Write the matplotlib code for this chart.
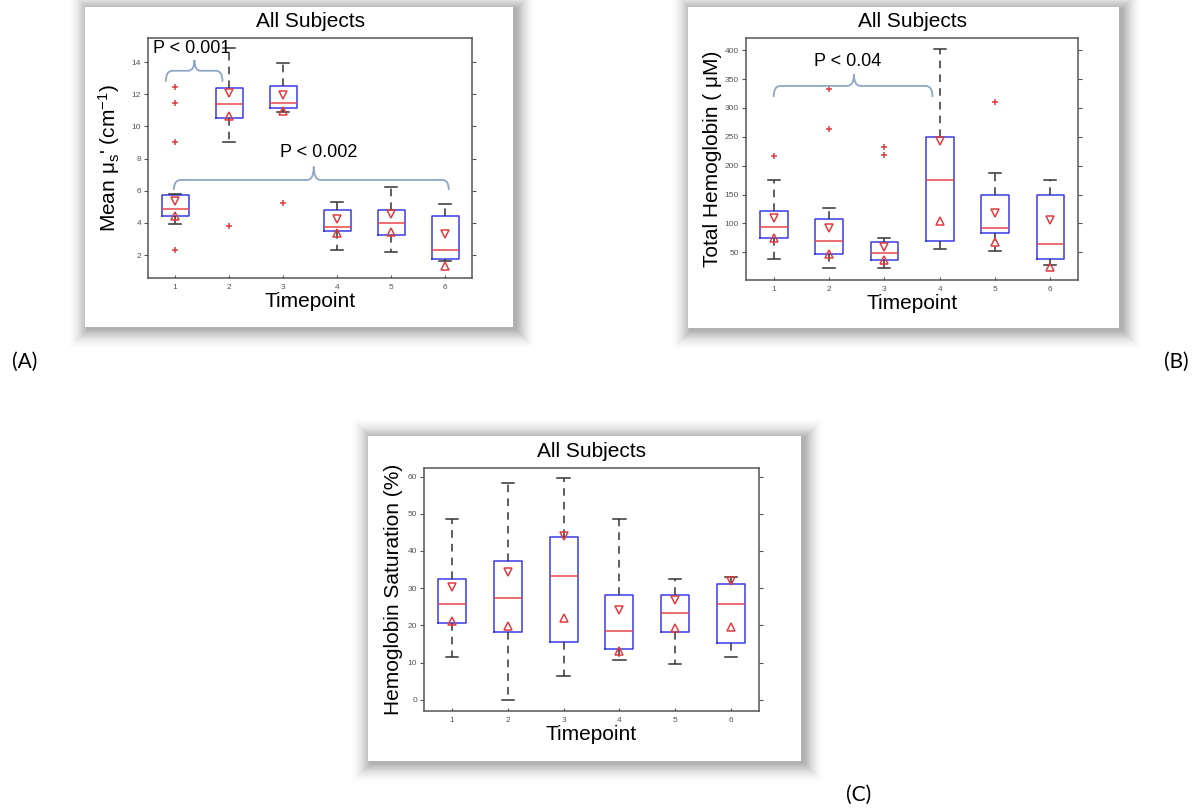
import numpy as np
import matplotlib
matplotlib.use('Agg')
import matplotlib.pyplot as plt
from matplotlib.patches import Rectangle, PathPatch
from matplotlib.path import Path

plt.rcParams['font.family'] = ['Liberation Sans', 'DejaVu Sans']
plt.rcParams['mathtext.default'] = 'regular'

timepoints = [1, 2, 3, 4, 5, 6]

# (A) mean reduced scattering
mus_lo = [3.9, 9.0, 10.88, 2.32, 2.16, 1.64]
mus_q1 = [4.43, 10.54, 11.16, 3.5, 3.24, 1.78]
mus_med = [4.87, 11.39, 11.43, 3.77, 3.98, 2.3]
mus_q3 = [5.74, 12.4, 12.5, 4.81, 4.77, 4.45]
mus_hi = [5.8, 14.9, 13.92, 5.28, 6.22, 5.18]
mus_out = [[12.43, 11.45, 9.05, 2.3], [3.83], [5.26], [], [], []]
mus_tri_dn = [5.37, 12.05, 11.95, 4.23, 4.54, 3.3]
mus_tri_up = [4.43, 10.65, 10.98, 3.36, 3.46, 1.33]

# (B) total hemoglobin
thb_lo = [39, 22, 22, 55, 52, 28]
thb_q1 = [75, 47, 36, 69, 83, 38]
thb_med = [94, 70, 48, 175, 92, 64]
thb_q3 = [122, 108, 67, 250, 150, 150]
thb_hi = [176, 126, 74, 402, 188, 176]
thb_out = [[216], [332, 263], [232, 218], [], [310], []]
thb_tri_dn = [110, 92, 60, 242, 118, 106]
thb_tri_up = [75, 47, 36, 105, 67, 25]

# (C) hemoglobin saturation
sat_lo = [11.6, 0.0, 6.3, 10.6, 9.7, 11.6]
sat_q1 = [20.7, 18.2, 15.5, 13.7, 18.3, 15.2]
sat_med = [25.7, 27.4, 33.2, 18.5, 23.4, 25.8]
sat_q3 = [32.6, 37.4, 43.8, 28.3, 28.3, 31.1]
sat_hi = [48.5, 58.2, 59.6, 48.5, 32.6, 33.1]
sat_out = [[], [], [], [], [], []]
sat_tri_dn = [30.2, 34.4, 43.9, 24.1, 26.9, 32.0]
sat_tri_up = [21.2, 19.9, 22.1, 13.2, 19.3, 19.6]

W, H = 1200, 810
fig = plt.figure(figsize=(12, 8.1), dpi=100)
bg = fig.add_axes([0, 0, 1, 1])
bg.set_xlim(0, W)
bg.set_ylim(H, 0)
bg.axis('off')

# framed picture with soft shadow
def frame(x0, y0, x1, y1, n=22):
    for k in range(n, 0, -1):
        a = 0.032 * (1 - k / n)
        bg.add_patch(Rectangle((x0 - k + 3, y0 - k + 2), x1 - x0 + 2 * k, y1 - y0 + 2 * k,
                               facecolor='black', edgecolor='none', alpha=a))
    bg.add_patch(Rectangle((x0, y0), x1 - x0, y1 - y0, facecolor='white', edgecolor='none'))

frame(85, 7, 513, 327)
frame(688, 7, 1119, 328)
frame(368, 436, 801, 761)

bg.text(25, 362, '(A)', fontsize=15, family=['Lato', 'DejaVu Sans'], ha='center', va='center')
bg.text(1176, 362, '(B)', fontsize=15, family=['Lato', 'DejaVu Sans'], ha='center', va='center')
bg.text(859, 795, '(C)', fontsize=15, family=['Lato', 'DejaVu Sans'], ha='center', va='center')


def pax(l, t, r, b):
    return fig.add_axes([l / W, 1 - b / H, (r - l) / W, (b - t) / H])


def brace(ax, x0, x1, xm, y0, ym, yt, rx):
    verts = [(x0, y0), (x0, ym), (x0 + rx, ym), (xm - rx, ym), (xm, ym), (xm, yt),
             (xm, ym), (xm + rx, ym), (x1 - rx, ym), (x1, ym), (x1, y0)]
    codes = [Path.MOVETO, Path.CURVE3, Path.CURVE3, Path.LINETO, Path.CURVE3, Path.CURVE3,
             Path.CURVE3, Path.CURVE3, Path.LINETO, Path.CURVE3, Path.CURVE3]
    ax.add_patch(PathPatch(Path(verts, codes), facecolor='none', edgecolor='#8fa6c6',
                           lw=1.3, zorder=5, clip_on=False))


def boxpanel(ax, lo, q1, med, q3, hi, out, tri_dn, tri_up, ylim, yticks, ylabel, ylab_x):
    stats = []
    for i in range(len(timepoints)):
        stats.append(dict(med=med[i], q1=q1[i], q3=q3[i], whislo=lo[i], whishi=hi[i],
                          fliers=out[i]))
    ax.bxp(stats, positions=timepoints, widths=0.5, capwidths=0.22, showfliers=True,
           boxprops=dict(color='#3a3ae6', lw=1.1),
           medianprops=dict(color='#e8474a', lw=1.1),
           whiskerprops=dict(color='#333333', lw=1.1, ls=(0, (5, 4))),
           capprops=dict(color='#333333', lw=1.1),
           flierprops=dict(marker='+', markeredgecolor='#e03c40', markersize=5, mew=1.1))
    ax.plot(timepoints, tri_dn, ls='none', marker='v', ms=6, mfc='none', mec='#e03c40', mew=1.1)
    ax.plot(timepoints, tri_up, ls='none', marker='^', ms=6, mfc='none', mec='#e03c40', mew=1.1)
    ax.set_xlim(0.5, 6.5)
    ax.set_ylim(*ylim)
    ax.set_xticks(timepoints)
    ax.set_xticklabels([str(t) for t in timepoints])
    ax.set_yticks(yticks)
    ax.tick_params(axis='both', labelsize=6, labelcolor='#555555', color='#555555')
    ax.tick_params(axis='y', direction='out', length=3, pad=2, right=True)
    ax.tick_params(axis='x', direction='in', length=2, pad=4)
    for s in ax.spines.values():
        s.set_color('#555555')
        s.set_linewidth(1.1)
    ax.set_title('All Subjects', fontsize=15, pad=8)
    ax.set_xlabel('Timepoint', fontsize=15, labelpad=1)
    ax.set_ylabel(ylabel, fontsize=15)
    ax.yaxis.set_label_coords(ylab_x, 0.5)


axA = pax(148, 38, 472, 278)
boxpanel(axA, mus_lo, mus_q1, mus_med, mus_q3, mus_hi, mus_out, mus_tri_dn, mus_tri_up,
         (0.57, 15.5), [2, 4, 6, 8, 10, 12, 14], "Mean \u03bc$_s$' (cm$^{-1}$)", -0.08)
axA.text(0.59, 14.87, 'P < 0.001', fontsize=13, ha='left', va='center')
brace(axA, 0.83, 1.88, 1.36, 12.78, 13.46, 14.12, 0.12)
axA.text(3.67, 8.35, 'P < 0.002', fontsize=13, ha='center', va='center')
brace(axA, 0.98, 6.07, 3.57, 6.05, 6.67, 7.5, 0.12)

axB = pax(746, 38, 1078, 280)
boxpanel(axB, thb_lo, thb_q1, thb_med, thb_q3, thb_hi, thb_out, thb_tri_dn, thb_tri_up,
         (2, 421), [50, 100, 150, 200, 250, 300, 350, 400], 'Total Hemoglobin ( \u03bcM)', -0.072)
axB.text(2.34, 381, 'P < 0.04', fontsize=13, ha='center', va='center')
brace(axB, 1.0, 3.87, 2.45, 319, 338, 358, 0.12)

axC = pax(424, 468, 759, 711)
boxpanel(axC, sat_lo, sat_q1, sat_med, sat_q3, sat_hi, sat_out, sat_tri_dn, sat_tri_up,
         (-3, 62.3), [0, 10, 20, 30, 40, 50, 60], 'Hemoglobin Saturation (%)', -0.063)

fig.savefig('out.png', dpi=100)
